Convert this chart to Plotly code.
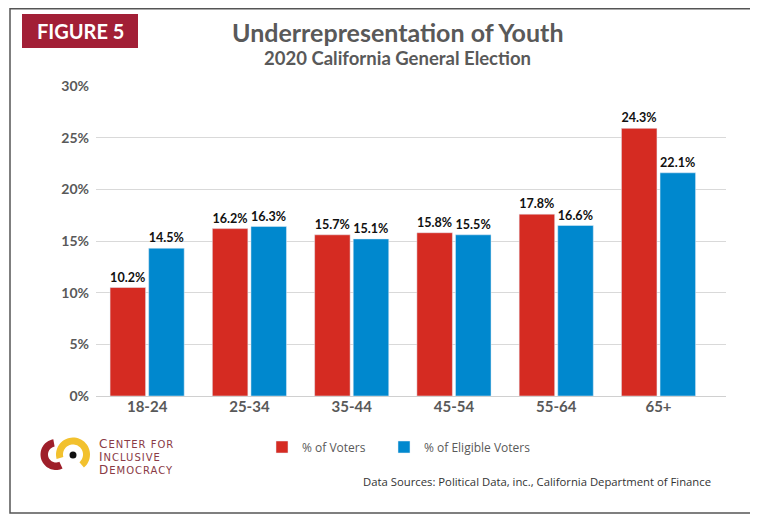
import math
import plotly.graph_objects as go

# ---------------- data ----------------
categories = ["18-24", "25-34", "35-44", "45-54", "55-64", "65+"]
# bar heights as drawn in the reference (percent)
voters_height = [10.5, 16.2, 15.6, 15.8, 17.6, 25.9]
eligible_height = [14.3, 16.4, 15.2, 15.6, 16.5, 21.6]
# printed data labels
voters_labels = ["10.2%", "16.2%", "15.7%", "15.8%", "17.8%", "24.3%"]
eligible_labels = ["14.5%", "16.3%", "15.1%", "15.5%", "16.6%", "22.1%"]
y_ticks = [0, 5, 10, 15, 20, 25, 30]
y_tick_labels = ["0%", "5%", "10%", "15%", "20%", "25%", "30%"]

# ---------------- layout geometry ----------------
OFF = 8                      # page body margin
WIN_W, WIN_H = 758, 515
W, H = WIN_W - OFF, WIN_H - OFF
L, R, T, B = 96 - OFF, 32, 86 - OFF, 119
PW, PH = W - L - R, H - T - B

def P(px, py):
    """window pixel -> paper coords"""
    fx, fy = px - OFF, py - OFF
    return (fx - L) / PW, (H - B - fy) / PH

RED = "#D52B22"
BLUE = "#0088CE"
GRAY = "#595959"
FONT = "Lato"

fig = go.Figure()
fig.add_trace(go.Bar(
    name="% of Voters", x=categories, y=voters_height, marker_color=RED,
    text=voters_labels, textposition="outside", cliponaxis=False,
    textfont=dict(family=FONT, size=13, color="#111111", weight="bold"),
    hoverinfo="skip", legend="legend"))
fig.add_trace(go.Bar(
    name="% of Eligible Voters", x=categories, y=eligible_height, marker_color=BLUE,
    text=eligible_labels, textposition="outside", cliponaxis=False,
    textfont=dict(family=FONT, size=13, color="#111111", weight="bold"),
    hoverinfo="skip", legend="legend2"))

shapes = []
annotations = []

# outer border
x0, y0 = P(10, 8.8)
x1, y1 = P(754, 513)
shapes.append(dict(type="rect", xref="paper", yref="paper", x0=x0, y0=y1, x1=x1, y1=y0,
                   line=dict(color="#555555", width=1.5), fillcolor="rgba(0,0,0,0)", layer="below"))

# FIGURE 5 box
x0, y0 = P(22, 14)
x1, y1 = P(138, 48)
shapes.append(dict(type="rect", xref="paper", yref="paper", x0=x0, y0=y1, x1=x1, y1=y0,
                   line=dict(width=0), fillcolor="#A21F36"))
ax, ay = P(80, 31)
annotations.append(dict(text="<b>FIGURE 5</b>", x=ax, y=ay, xref="paper", yref="paper",
                        showarrow=False, xanchor="center", yanchor="middle",
                        font=dict(family=FONT, size=20, color="white")))

# titles
ax, ay = P(397, 32)
annotations.append(dict(text="<b>Underrepresentation of Youth</b>", x=ax, y=ay, xref="paper", yref="paper",
                        showarrow=False, xanchor="center", yanchor="middle",
                        font=dict(family=FONT, size=25, color=GRAY)))
ax, ay = P(397, 58)
annotations.append(dict(text="<b>2020 California General Election</b>", x=ax, y=ay, xref="paper", yref="paper",
                        showarrow=False, xanchor="center", yanchor="middle",
                        font=dict(family=FONT, size=18.5, color=GRAY)))

# data sources
ax, ay = P(713, 481)
annotations.append(dict(text="Data Sources: Political Data, inc., California Department of Finance",
                        x=ax, y=ay, xref="paper", yref="paper", showarrow=False,
                        xanchor="right", yanchor="middle",
                        font=dict(family="Open Sans", size=11.3, color="#333333")))

# logo graphic
def arc_path(cx, cy, r_out, r_in, a_start, a_end, n=40):
    pts = []
    for i in range(n + 1):
        a = math.radians(a_start + (a_end - a_start) * i / n)
        pts.append(P(cx + r_out * math.cos(a), cy - r_out * math.sin(a)))
    for i in range(n + 1):
        a = math.radians(a_end + (a_start - a_end) * i / n)
        pts.append(P(cx + r_in * math.cos(a), cy - r_in * math.sin(a)))
    return "M" + " L".join(f"{x:.5f},{y:.5f}" for x, y in pts) + " Z"

shapes.append(dict(type="path", xref="paper", yref="paper",
                   path=arc_path(56, 454.5, 15.5, 8, 100, 295),
                   fillcolor="#9E1F2A", line=dict(width=0)))
shapes.append(dict(type="path", xref="paper", yref="paper",
                   path=arc_path(73, 454.5, 17, 10, 195, -50),
                   fillcolor="#F2C12E", line=dict(width=0)))
cx0, cy0 = P(69.5, 451.5)
cx1, cy1 = P(76.5, 458.5)
shapes.append(dict(type="circle", xref="paper", yref="paper", x0=cx0, y0=cy1, x1=cx1, y1=cy0,
                   fillcolor="#111111", line=dict(width=0)))

SP = "letter-spacing:1px"
logo_text = (f"<span style='font-size:12px;{SP}'>C</span><span style='{SP}'>ENTER FOR</span><br>"
             f"<span style='font-size:12px;{SP}'>I</span><span style='{SP}'>NCLUSIVE</span><br>"
             f"<span style='font-size:12px;{SP}'>D</span><span style='{SP}'>EMOCRACY</span>")
ax, ay = P(97, 457)
annotations.append(dict(text=logo_text, x=ax, y=ay, xref="paper", yref="paper",
                        showarrow=False, xanchor="left", yanchor="middle", align="left",
                        font=dict(family="DejaVu Sans", size=10, color="#8A3A45")))

lx1, ly = P(262, 447)
lx2, _ = P(384, 447)
legend_common = dict(orientation="h", y=ly, xanchor="left", yanchor="middle",
                     font=dict(family="Open Sans", size=12, color=GRAY),
                     itemclick=False, bgcolor="rgba(0,0,0,0)")

fig.update_layout(
    width=W, height=H,
    margin=dict(l=L, r=R, t=T, b=B, autoexpand=False),
    paper_bgcolor="white", plot_bgcolor="white",
    barmode="group", bargap=0.245, bargroupgap=0.08,
    showlegend=True,
    legend=dict(x=lx1, **legend_common),
    legend2=dict(x=lx2, **legend_common),
    shapes=shapes, annotations=annotations,
    xaxis=dict(range=[-0.5, 5.66], showgrid=False, zeroline=False, showline=False,
               tickfont=dict(family=FONT, size=15, color=GRAY, weight="bold"),
               ticks=""),
    yaxis=dict(range=[0, 30], tickvals=y_ticks, ticktext=y_tick_labels,
               showgrid=True, gridcolor="#D9D9D9", gridwidth=1,
               zeroline=True, zerolinecolor="#D0D0D0", zerolinewidth=1,
               showline=False, ticks="", ticklabelstandoff=6,
               tickfont=dict(family=FONT, size=14, color=GRAY, weight="bold")),
    font=dict(family=FONT),
)

fig.write_html("out.html")
